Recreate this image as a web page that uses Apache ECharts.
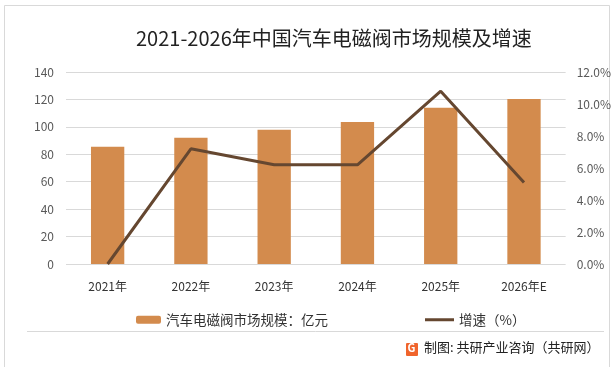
<!DOCTYPE html>
<html>
<head>
<meta charset="utf-8">
<script src="https://cdn.jsdelivr.net/npm/echarts@6/dist/echarts.min.js"></script>
<style>
html,body{margin:0;padding:0;background:#fff;}
#chart{width:614px;height:367px;}
</style>
</head>
<body>
<div id="chart"></div>
<script>
const titleText = '2021-2026年中国汽车电磁阀市场规模及增速';
const categories = ['2021年', '2022年', '2023年', '2024年', '2025年', '2026年E'];
const marketSize = [85.5, 92, 97.8, 103.5, 114, 120.3];
const growthRate = [0, 0.072, 0.062, 0.062, 0.108, 0.051];
const barName = '汽车电磁阀市场规模：亿元';
const lineName = '增速（%）';
const sourceText = '制图: 共研产业咨询（共研网）';

const chart = echarts.init(document.getElementById('chart'), null, {renderer: 'canvas'});
const font = '"Noto Sans CJK SC", "Microsoft YaHei", sans-serif';

chart.setOption({
  animation: false,
  backgroundColor: '#fff',
  textStyle: {fontFamily: font},
  title: {
    text: titleText,
    left: 131, top: 23,
    textStyle: {fontSize: 20, fontWeight: 'normal', color: '#222', fontFamily: font}
  },
  legend: [
    {
      data: [barName], left: 131, top: 308,
      itemWidth: 25, itemHeight: 8, itemGap: 10,
      textStyle: {fontSize: 13.5, color: '#333', fontFamily: font}
    },
    {
      data: [{name: lineName, icon: 'rect'}], left: 420, top: 308,
      itemWidth: 29, itemHeight: 3,
      textStyle: {fontSize: 13.5, color: '#333', fontFamily: font}
    }
  ],
  grid: {left: 66, right: 48, top: 72, bottom: 103, containLabel: false},
  xAxis: {
    type: 'category',
    data: categories,
    axisLine: {show: false},
    axisTick: {show: false},
    axisLabel: {color: '#333', fontSize: 12, margin: 16, fontFamily: font}
  },
  yAxis: [
    {
      type: 'value', min: 0, max: 140, interval: 20,
      axisLine: {show: false}, axisTick: {show: false},
      axisLabel: {color: '#595959', fontSize: 12, margin: 12},
      splitLine: {lineStyle: {color: '#d9d9d9', width: 1}}
    },
    {
      type: 'value', min: 0, max: 0.12, interval: 0.02,
      axisLine: {show: false}, axisTick: {show: false},
      axisLabel: {color: '#595959', fontSize: 12, margin: 11,
        formatter: v => (v * 100).toFixed(1) + '%'},
      splitLine: {show: false}
    }
  ],
  series: [
    {
      name: barName, type: 'bar', data: marketSize,
      barWidth: '40%',
      itemStyle: {color: '#D38B4D'}
    },
    {
      name: lineName, type: 'line', yAxisIndex: 1, data: growthRate,
      symbol: 'none', smooth: false,
      lineStyle: {color: '#654730', width: 3},
      itemStyle: {color: '#654730'}
    }
  ],
  graphic: [
    {type: 'rect', shape: {x: 4.5, y: 5.5, width: 605, height: 362},
      style: {fill: 'none', stroke: '#d9d9d9', lineWidth: 1}, silent: true},
    {type: 'line', shape: {x1: 27, y1: 331.5, x2: 604, y2: 331.5},
      style: {stroke: '#d9d9d9', lineWidth: 1}, silent: true},
    {type: 'rect', shape: {x: 406, y: 343, width: 12, height: 13, r: 1},
      style: {fill: '#F0642C'}, silent: true},
    {type: 'text', left: 407.5, top: 342,
      style: {text: 'G', fill: '#fff', font: 'bold 11px ' + font}, silent: true},
    {type: 'text', left: 424, top: 341,
      style: {text: sourceText, fill: '#222', font: '13px ' + font}, silent: true}
  ]
});
</script>
</body>
</html>
